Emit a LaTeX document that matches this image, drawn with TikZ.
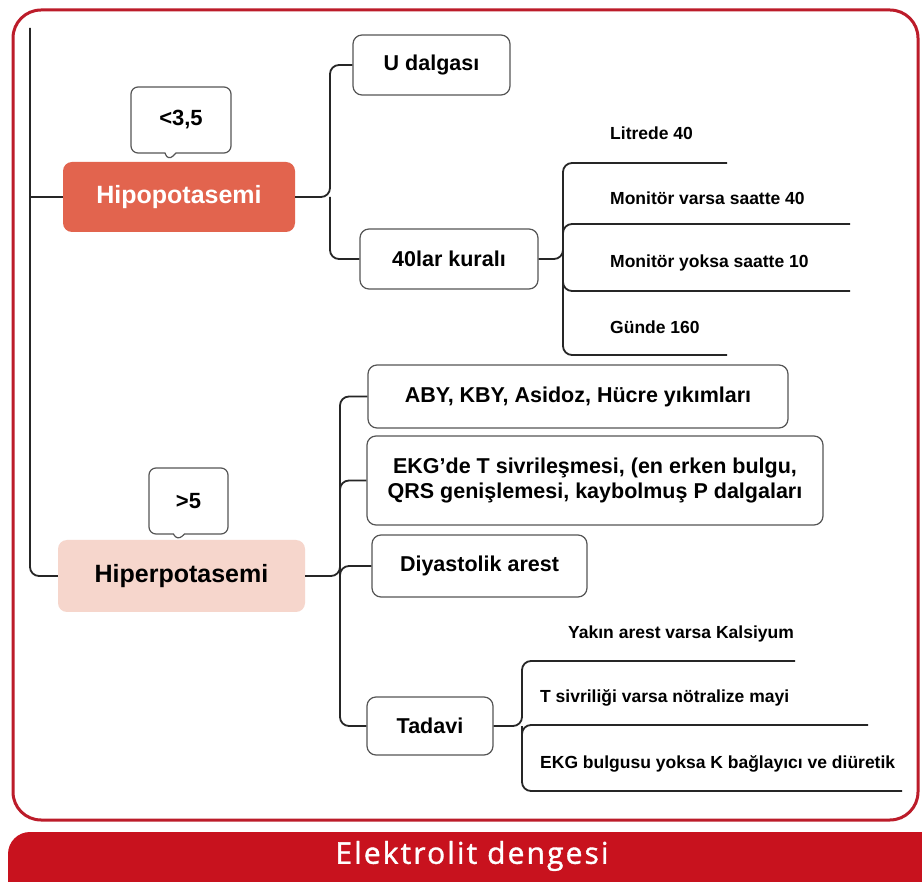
\documentclass[tikz,border=0pt]{standalone}
\usepackage{fontspec}
\setmainfont{Liberation Sans}
\newfontfamily\titlefont[LetterSpace=7,FakeBold=1.2]{Open Sans}
\usetikzlibrary{shapes.callouts}
\definecolor{framered}{RGB}{188,28,42}
\definecolor{barred}{RGB}{200,18,30}
\definecolor{hipofill}{RGB}{226,100,78}
\definecolor{hiperfill}{RGB}{246,214,204}
\definecolor{linegray}{RGB}{38,38,38}
\definecolor{boxgray}{RGB}{85,85,85}
\begin{document}
\begin{tikzpicture}[x=1pt,y=-1pt,
  conn/.style={draw=linegray,line width=1.8pt,rounded corners=9pt},
  box/.style={draw=boxgray,line width=1.2pt,fill=white,rounded corners=9pt,
    inner sep=0pt,align=center,font=\bfseries\fontsize{21.5}{25}\selectfont},
  mainbox/.style={rounded corners=9pt,inner sep=0pt,
    font=\bfseries\fontsize{25}{28}\selectfont},
  callbox/.style={rectangle callout,draw=boxgray,line width=1.2pt,fill=white,
    rounded corners=7pt,inner sep=0pt,callout pointer width=11pt,
    font=\bfseries\fontsize{22}{25}\selectfont},
  leaf/.style={anchor=west,inner sep=0pt,font=\bfseries\fontsize{17.5}{20}\selectfont}
]
\useasboundingbox (0,0) rectangle (922,882);
\clip (0,0) rectangle (922,882);
\fill[white] (0,0) rectangle (922,882);

% frame and title bar
\draw[framered,line width=3pt,rounded corners=28pt] (13,10) rectangle (918,820);
\fill[barred,rounded corners=22pt] (8,832) rectangle (950,910);
\node[text=white,font=\titlefont\fontsize{30}{33}\selectfont] (title) at (472,856) {Elektrolit dengesi};

% main nodes
\node[mainbox,fill=hipofill,text=white,minimum width=232pt,minimum height=70pt] (hipo) at (179,197) {Hipopotasemi};
\node[mainbox,fill=hiperfill,text=black,minimum width=247pt,minimum height=72pt] (hiper) at (181.5,576) {Hiperpotasemi};
\node[callbox,minimum width=100pt,minimum height=66pt,callout absolute pointer={(168,161)}] (c1) at (181,120) {<3,5};
\node[callbox,minimum width=79pt,minimum height=66pt,callout absolute pointer={(177,541)}] (c2) at (188.5,501) {>5};

% hipo branch boxes
\node[box,minimum width=157pt,minimum height=60pt] (udal) at (431.5,65) {U dalgası};
\node[box,minimum width=178pt,minimum height=60pt] (kural) at (449,259) {40lar kuralı};

% hiper branch boxes
\node[box,minimum width=420pt,minimum height=63pt] (aby) at (578,396.5) {ABY, KBY, Asidoz, Hücre yıkımları};
\node[box,minimum width=456pt,minimum height=89pt] (ekg) at (595,480.5) {EKG’de T sivrileşmesi, (en erken bulgu,\\QRS genişlemesi, kaybolmuş P dalgaları};
\node[box,minimum width=215pt,minimum height=62pt] (diy) at (479.5,566) {Diyastolik arest};
\node[box,minimum width=126pt,minimum height=58pt] (tad) at (430,726) {Tadavi};

% leaf texts
\node[leaf] (l1) at (610,133) {Litrede 40};
\node[leaf] (l2) at (610,198) {Monitör varsa saatte 40};
\node[leaf] (l3) at (610,263) {Monitör yoksa saatte 10};
\node[leaf] (l4) at (610,327) {Günde 160};
\node[leaf] (t1) at (568,634) {Yakın arest varsa Kalsiyum};
\node[leaf] (t2) at (540,698) {T sivriliği varsa nötralize mayi};
\node[leaf] (t3) at (540,764) {EKG bulgusu yoksa K bağlayıcı ve diüretik};

% coordinates
\coordinate (mtop) at (30,28);
\coordinate (mj) at (30,197);
\coordinate (hj) at (330,197);
\coordinate (kj) at (563,259);
\coordinate (k1) at (727,163);
\coordinate (k2) at (850,224);
\coordinate (k3) at (850,291);
\coordinate (k4) at (727,355);
\coordinate (pj) at (340,576);
\coordinate (tj) at (522,726);
\coordinate (e1) at (795,661);
\coordinate (e2) at (868,725);
\coordinate (e3) at (902,791);

% connectors
\draw[conn] (mtop) |- (hiper.west);
\draw[conn] (mj) -- (hipo.west);
\draw[conn] (hipo.east) -- (hj) |- (udal.west);
\draw[conn] (hj) |- (kural.west);
\draw[conn] (kural.east) -- (kj) |- (k1);
\draw[conn] (kj) |- (k2);
\draw[conn] (kj) |- (k3);
\draw[conn] (kj) |- (k4);
\draw[conn] (hiper.east) -- (pj) |- (aby.west);
\draw[conn] (pj) |- (ekg.west);
\draw[conn] (pj) |- (diy.west);
\draw[conn] (pj) |- (tad.west);
\draw[conn] (tad.east) -- (tj) |- (e1);
\draw[conn] (tj) |- (e2);
\draw[conn] (tj) |- (e3);
\end{tikzpicture}
\end{document}
